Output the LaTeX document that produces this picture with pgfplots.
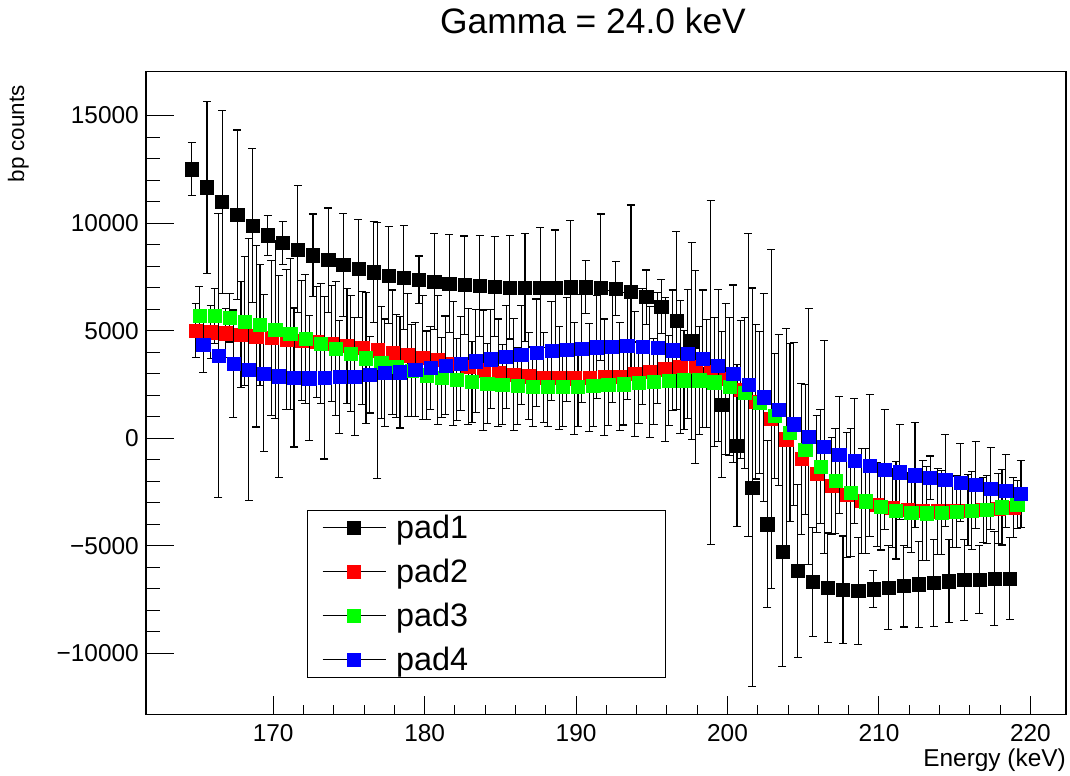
\documentclass[border=0pt]{standalone}
\usepackage{pgfplots}
\pgfplotsset{compat=1.18}
\usepackage{fontspec}
\setmainfont{Liberation Sans}
\begin{document}
\begin{tikzpicture}[x=1bp,y=1bp]
\useasboundingbox (-146,-61.3) rectangle (924,714.7);
\begin{axis}[
  width=920bp, height=643bp, scale only axis,
  xmin=161.6, xmax=222.35, ymin=-12860, ymax=17040,
  scaled y ticks=false, scaled x ticks=false,
  xtick={170,180,190,200,210,220}, xticklabels={170,180,190,200,210,220},
  ytick={-10000,-5000,0,5000,10000,15000}, yticklabels={−10000,−5000,0,5000,10000,15000},
  minor x tick num=4, minor y tick num=4,
  tick pos=left, tick align=inside,
  major tick length=28bp, minor tick length=14bp,
  xtick style={/pgfplots/major tick length=19bp,/pgfplots/minor tick length=9.5bp},
  tick style={black, line width=1bp},
  axis line style={black, line width=1.2bp},
  ticklabel style={font=\fontsize{24.5}{24.5}\selectfont},
  xticklabel style={anchor=north, inner sep=0pt, yshift=-9.5bp},
  yticklabel style={anchor=east, inner sep=0pt, xshift=-7bp},
  clip=false,
  legend style={at={(0.1746,0.3184)}, anchor=north west, draw=black, line width=1bp, fill=white,
    font=\fontsize{32.5}{32.5}\selectfont, inner xsep=15bp, inner ysep=3bp, row sep=15bp},
  legend cell align=left,
  legend image code/.code={\draw[black,line width=1bp] (0bp,0bp) -- (63bp,0bp);
     \draw[mark=square*, mark size=6.6bp, only marks] plot coordinates {(31.5bp,0bp)};},
  every axis plot/.append style={only marks, mark=square*, mark size=6.6bp,
    error bars/y dir=both, error bars/y explicit,
    error bars/error bar style={black, line width=1.1bp},
    error bars/error mark options={rotate=90, black, mark size=4bp, line width=1.1bp}},
]
\addplot[mark options={draw=black,fill=black}] table[x=x,y=y,y error=e] {
x y e
164.625 12510 1240
165.625 11670 4000
166.625 10980 4240
167.625 10390 3940
168.625 9880 3570
169.625 9440 930
170.625 9070 990
171.625 8780 2950
172.625 8510 1910
173.625 8280 2420
174.625 8060 2390
175.625 7890 2280
176.625 7720 2360
177.625 7570 2260
178.625 7470 2400
179.625 7360 1110
180.625 7270 2230
181.625 7190 2280
182.625 7120 2280
183.625 7070 2340
184.625 7040 2330
185.625 7010 2400
186.625 6990 2510
187.625 6990 2790
188.625 7010 2670
189.625 7020 3120
190.625 7020 1240
191.625 7010 3410
192.625 6950 1260
193.625 6820 4020
194.625 6560 1260
195.625 6120 1240
196.625 5470 4120
197.625 4510 4590
198.625 3000 2500
199.625 1550 3400
200.625 -340 3750
201.625 -2290 9270
202.625 -4000 3880
203.625 -5290 5310
204.625 -6170 4020
205.625 -6680 2530
206.625 -6950 2540
207.625 -7060 2510
208.625 -7090 2490
209.625 -7020 860
210.625 -6960 1950
211.625 -6880 1900
212.625 -6790 2000
213.625 -6730 2030
214.625 -6650 1920
215.625 -6600 1890
216.625 -6570 1570
217.625 -6540 2180
218.625 -6520 1900
};
\addlegendentry{\makebox[260bp][l]{\hspace{8bp}pad1}}
\addplot[color=red, mark options={draw=red,fill=red}] table[x=x,y=y,y error=e] {
x y e
164.875 4990 1260
165.875 4930 1220
166.875 4880 1150
167.875 4810 2470
168.875 4740 4220
169.875 4670 3600
170.875 4600 3260
171.875 4540 2800
172.875 4470 2570
173.875 4390 2700
174.875 4290 2680
175.875 4200 2620
176.875 4090 5950
177.875 3990 2900
178.875 3860 2870
179.875 3750 2870
180.875 3630 3000
181.875 3470 2900
182.875 3320 2700
183.875 3160 2800
184.875 3040 2500
185.875 2960 2600
186.875 2880 2020
187.875 2820 2090
188.875 2810 2400
189.875 2790 2600
190.875 2810 2500
191.875 2840 2700
192.875 2870 2500
193.875 2980 2900
194.875 3090 3050
195.875 3210 3350
196.875 3320 3100
197.875 3310 4470
198.875 3070 8000
199.875 2750 3500
200.875 2250 3200
201.875 1700 3600
202.875 890 7900
203.875 -50 5160
204.875 -970 3500
205.875 -1670 2720
206.875 -2210 2260
207.875 -2630 2910
208.875 -2920 2430
209.875 -3100 1950
210.875 -3240 1840
211.875 -3330 1750
212.875 -3380 2320
213.875 -3400 2000
214.875 -3400 1680
215.875 -3360 1650
216.875 -3330 1510
217.875 -3280 1640
218.875 -3240 1400
};
\addlegendentry{\makebox[260bp][l]{\hspace{8bp}pad2}}
\addplot[color=green, mark options={draw=green,fill=green}] table[x=x,y=y,y error=e] {
x y e
165.125 5710 1330
166.125 5690 1280
167.125 5600 1130
168.125 5430 3000
169.125 5260 2800
170.125 5050 4140
171.125 4840 3500
172.125 4620 3000
173.125 4390 2800
174.125 4170 3100
175.125 3940 2700
176.125 3720 3040
177.125 3520 2600
178.125 3340 2400
179.125 3130 2140
180.125 2930 2050
181.125 2810 1860
182.125 2730 1890
183.125 2620 1890
184.125 2540 1860
185.125 2480 1860
186.125 2420 1800
187.125 2390 1850
188.125 2390 1830
189.125 2390 1860
190.125 2400 1860
191.125 2420 1880
192.125 2470 1900
193.125 2510 1900
194.125 2570 1900
195.125 2620 2000
196.125 2670 2100
197.125 2690 2300
198.125 2690 2500
199.125 2600 3000
200.125 2400 3200
201.125 2100 3500
202.125 1650 3300
203.125 1040 2910
204.125 270 4150
205.125 -530 3020
206.125 -1320 2670
207.125 -1990 2450
208.125 -2530 2960
209.125 -2930 2430
210.125 -3190 2010
211.125 -3360 2260
212.125 -3460 1860
213.125 -3490 2180
214.125 -3470 1950
215.125 -3420 1660
216.125 -3360 1810
217.125 -3320 1600
218.125 -3210 1760
219.125 -3100 1120
};
\addlegendentry{\makebox[260bp][l]{\hspace{8bp}pad3}}
\addplot[color=blue, mark options={draw=blue,fill=blue}] table[x=x,y=y,y error=e] {
x y e
165.375 4360 1300
166.375 3830 6600
167.375 3460 2500
168.375 3180 6100
169.375 3010 3650
170.375 2880 4700
171.375 2820 3230
172.375 2790 2900
173.375 2810 3780
174.375 2840 2620
175.375 2870 2730
176.375 2950 1780
177.375 3040 2500
178.375 3070 2600
179.375 3190 2170
180.375 3270 1940
181.375 3380 2300
182.375 3470 2200
183.375 3580 2400
184.375 3670 2300
185.375 3770 2400
186.375 3880 2300
187.375 3970 2500
188.375 4050 2300
189.375 4120 2400
190.375 4170 2500
191.375 4230 2400
192.375 4260 2600
193.375 4280 2500
194.375 4250 2700
195.375 4190 2600
196.375 4090 2800
197.375 3920 3000
198.375 3690 3200
199.375 3380 3540
200.375 2990 4130
201.375 2470 7060
202.375 1900 4840
203.375 1310 3500
204.375 650 3800
205.375 80 5960
206.375 -410 4950
207.375 -780 2710
208.375 -1060 2900
209.375 -1270 3320
210.375 -1450 2780
211.375 -1580 2210
212.375 -1720 2430
213.375 -1840 1010
214.375 -1950 2140
215.375 -2070 1820
216.375 -2180 2010
217.375 -2340 1890
218.375 -2450 1700
219.375 -2590 1570
};
\addlegendentry{\makebox[260bp][l]{\hspace{8bp}pad4}}
\end{axis}
\node[font=\fontsize{35.5}{35.5}\selectfont, anchor=base] at (447,680.7) {Gamma = 24.0 keV};
\node[font=\fontsize{22.5}{22.5}\selectfont, rotate=90, anchor=south east, inner sep=0pt] at (-117,629.7) {bp counts};
\node[font=\fontsize{24.5}{24.5}\selectfont, anchor=base east, inner sep=0pt] at (920,-52.3) {Energy (keV)};
\end{tikzpicture}
\end{document}
